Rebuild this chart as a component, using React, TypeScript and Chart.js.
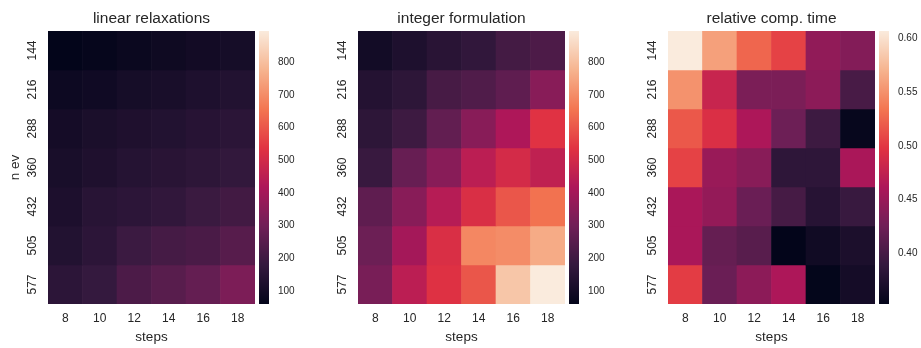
import React, { useEffect, useRef } from 'react';
import { Chart, registerables } from 'chart.js';

Chart.register(...registerables);

const steps = ['8', '10', '12', '14', '16', '18'];
const nEv = ['144', '216', '288', '360', '432', '505', '577'];

const linearRelax = [
  [60, 68, 78, 88, 98, 105],
  [85, 92, 105, 112, 125, 135],
  [102, 118, 128, 135, 145, 155],
  [112, 128, 142, 150, 160, 172],
  [122, 148, 158, 170, 190, 205],
  [135, 158, 192, 212, 222, 248],
  [158, 178, 225, 250, 275, 322],
];

const integerForm = [
  [99, 125, 150, 170, 210, 228],
  [140, 160, 215, 235, 265, 345],
  [160, 195, 270, 345, 420, 535],
  [185, 280, 345, 450, 505, 460],
  [265, 345, 440, 520, 600, 650],
  [290, 400, 520, 690, 700, 760],
  [315, 450, 530, 600, 815, 896],
];

const relTime = [
  [0.607, 0.559, 0.526, 0.506, 0.445, 0.437],
  [0.551, 0.48, 0.432, 0.432, 0.442, 0.401],
  [0.518, 0.493, 0.462, 0.424, 0.394, 0.356],
  [0.506, 0.45, 0.44, 0.384, 0.384, 0.46],
  [0.46, 0.447, 0.422, 0.4, 0.379, 0.391],
  [0.46, 0.419, 0.411, 0.353, 0.363, 0.371],
  [0.503, 0.422, 0.442, 0.462, 0.354, 0.366],
];

const countTicks = [100, 200, 300, 400, 500, 600, 700, 800];
const ratioTicks = [0.4, 0.45, 0.5, 0.55, 0.6];

const FONT = "'Liberation Sans', Arial, sans-serif";
const TEXT = '#262626';

// seaborn "rocket" colormap, piecewise linear approximation
const ROCKET: number[][] = [
  [0, 3, 5, 26],
  [1 / 7, 53, 25, 62],
  [2 / 7, 112, 31, 87],
  [3 / 7, 173, 23, 89],
  [4 / 7, 225, 51, 66],
  [5 / 7, 243, 118, 81],
  [6 / 7, 246, 180, 143],
  [1, 250, 235, 221],
];

function rocket(t: number): string {
  const x = Math.max(0, Math.min(1, t));
  for (let i = 1; i < ROCKET.length; i++) {
    const a = ROCKET[i - 1];
    const b = ROCKET[i];
    if (x <= b[0]) {
      const f = (x - a[0]) / (b[0] - a[0]);
      const r = Math.round(a[1] + (b[1] - a[1]) * f);
      const g = Math.round(a[2] + (b[2] - a[2]) * f);
      const bl = Math.round(a[3] + (b[3] - a[3]) * f);
      return `rgb(${r},${g},${bl})`;
    }
  }
  return 'rgb(250,235,221)';
}

const flat = (m: number[][]) => m.reduce((acc, r) => acc.concat(r), [] as number[]);
const countMin = Math.min(...flat(linearRelax), ...flat(integerForm));
const countMax = Math.max(...flat(linearRelax), ...flat(integerForm));
const ratioMin = Math.min(...flat(relTime));
const ratioMax = Math.max(...flat(relTime));

const H = 348;

function HeatPanel(props: {
  left: number;
  title: string;
  values: number[][];
  vmin: number;
  vmax: number;
  showYTitle: boolean;
}) {
  const ref = useRef<HTMLCanvasElement | null>(null);
  const { left, title, values, vmin, vmax, showYTitle } = props;
  useEffect(() => {
    if (!ref.current) return;
    const chart = new Chart(ref.current, {
      type: 'bar',
      data: {
        labels: steps,
        datasets: nEv.map((_, r) => ({
          data: steps.map(() => 1),
          backgroundColor: values[r].map((v) => rocket((v - vmin) / (vmax - vmin))),
          borderWidth: 0,
          barPercentage: 1,
          categoryPercentage: 1,
        })),
      },
      options: {
        animation: false,
        responsive: false,
        events: [],
        layout: { padding: { left: 0, right: 2, top: 0, bottom: 0 } },
        plugins: {
          legend: { display: false },
          tooltip: { enabled: false },
          title: {
            display: true,
            text: title,
            fullSize: false,
            color: TEXT,
            font: { family: FONT, size: 15.5, weight: 'normal', lineHeight: 1.2 },
            padding: { top: 9, bottom: 3.4 },
          },
        },
        scales: {
          x: {
            type: 'category',
            stacked: true,
            grid: { display: false, drawTicks: false },
            border: { display: false },
            ticks: { color: TEXT, font: { family: FONT, size: 12 }, padding: 7, maxRotation: 0 },
            title: {
              display: true,
              text: 'steps',
              color: TEXT,
              font: { family: FONT, size: 13.5, lineHeight: 1.2 },
              padding: { top: 0, bottom: 3 },
            },
            afterFit: (s: any) => {
              s.height = 44;
            },
          },
          y: {
            type: 'linear',
            stacked: true,
            min: 0,
            max: nEv.length,
            reverse: true,
            grid: { display: false, drawTicks: false },
            border: { display: false },
            afterBuildTicks: (s: any) => {
              s.ticks = nEv.map((_, i) => ({ value: i + 0.5 }));
            },
            ticks: {
              autoSkip: false,
              minRotation: 90,
              maxRotation: 90,
              crossAlign: 'center',
              padding: 5,
              color: TEXT,
              font: { family: FONT, size: 12 },
              callback: (_v: any, i: number) => nEv[i],
            },
            title: {
              display: showYTitle,
              text: 'n ev',
              color: TEXT,
              font: { family: FONT, size: 13.5, lineHeight: 1.2 },
              padding: { top: 7, bottom: 0 },
            },
            afterFit: (s: any) => {
              s.width = 48;
            },
          },
        },
      } as any,
    });
    return () => chart.destroy();
  }, []);
  return (
    <canvas
      ref={ref}
      width={257}
      height={H}
      style={{ position: 'absolute', left, top: 0, width: 257, height: H }}
    />
  );
}

function ColorBar(props: {
  left: number;
  vmin: number;
  vmax: number;
  ticks: number[];
  fmt: (v: number) => string;
}) {
  const ref = useRef<HTMLCanvasElement | null>(null);
  const { left, vmin, vmax, ticks, fmt } = props;
  useEffect(() => {
    if (!ref.current) return;
    const chart = new Chart(ref.current, {
      type: 'bar',
      data: {
        labels: [''],
        datasets: [
          {
            data: [[vmin, vmax]],
            backgroundColor: (c: any) => {
              const area = c.chart.chartArea;
              if (!area) return 'rgb(3,5,26)';
              const g = c.chart.ctx.createLinearGradient(0, area.bottom, 0, area.top);
              ROCKET.forEach((s) => g.addColorStop(s[0], `rgb(${s[1]},${s[2]},${s[3]})`));
              return g;
            },
            borderWidth: 0,
            barPercentage: 1,
            categoryPercentage: 1,
          },
        ],
      },
      options: {
        animation: false,
        responsive: false,
        events: [],
        layout: { padding: { left: 0, right: 0, top: 31, bottom: 44 } },
        plugins: { legend: { display: false }, tooltip: { enabled: false } },
        scales: {
          x: { display: false },
          y: {
            position: 'right',
            min: vmin,
            max: vmax,
            grid: { display: false, drawTicks: false },
            border: { display: false },
            afterBuildTicks: (s: any) => {
              s.ticks = ticks.map((v) => ({ value: v }));
            },
            ticks: {
              padding: 9,
              color: TEXT,
              font: { family: FONT, size: 10 },
              callback: (v: any) => fmt(Number(v)),
            },
            afterFit: (s: any) => {
              s.width = 40;
            },
          },
        },
      } as any,
    });
    return () => chart.destroy();
  }, []);
  return (
    <canvas
      ref={ref}
      width={50}
      height={H}
      style={{ position: 'absolute', left, top: 0, width: 50, height: H }}
    />
  );
}

export default function App() {
  const fmtCount = (v: number) => String(Math.round(v));
  const fmtRatio = (v: number) => v.toFixed(2);
  return (
    <div style={{ position: 'absolute', left: 0, top: 0, width: 921, height: H, background: '#fff', overflow: 'hidden' }}>
      <HeatPanel left={0} title="linear relaxations" values={linearRelax} vmin={countMin} vmax={countMax} showYTitle={true} />
      <ColorBar left={259} vmin={countMin} vmax={countMax} ticks={countTicks} fmt={fmtCount} />
      <HeatPanel left={310} title="integer formulation" values={integerForm} vmin={countMin} vmax={countMax} showYTitle={false} />
      <ColorBar left={569} vmin={countMin} vmax={countMax} ticks={countTicks} fmt={fmtCount} />
      <HeatPanel left={620} title="relative comp. time" values={relTime} vmin={ratioMin} vmax={ratioMax} showYTitle={false} />
      <ColorBar left={879} vmin={ratioMin} vmax={ratioMax} ticks={ratioTicks} fmt={fmtRatio} />
    </div>
  );
}
